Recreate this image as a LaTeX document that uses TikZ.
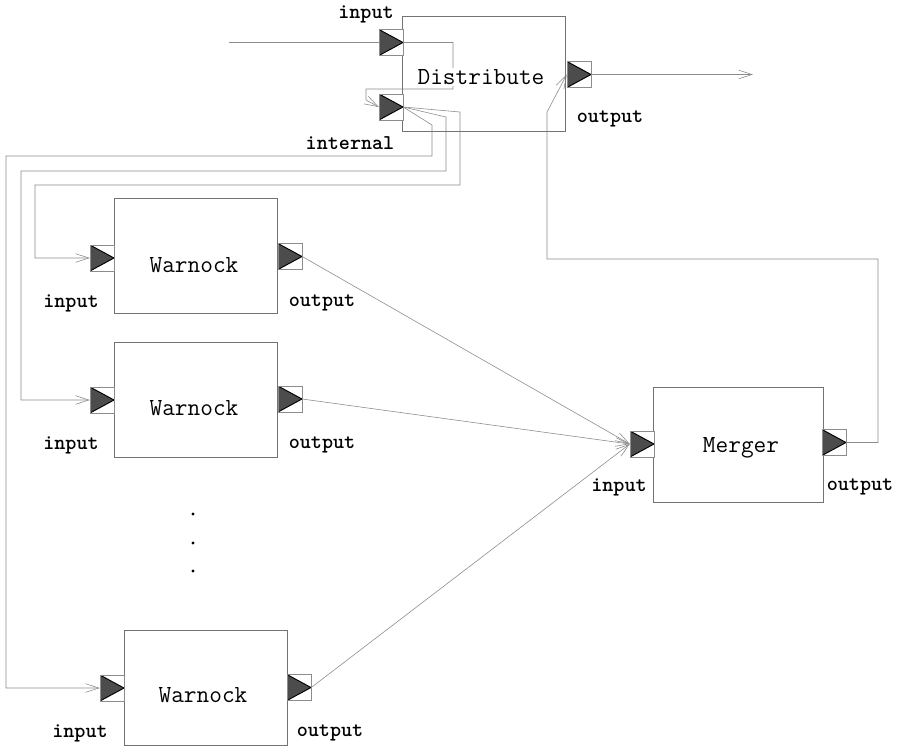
\documentclass[tikz,border=0pt]{standalone}
\usetikzlibrary{arrows.meta,backgrounds}

\begin{document}
\begin{tikzpicture}[x=0.03cm, y=-0.03cm,
        block/.style={draw=black!55, minimum width=4.9cm, minimum height=3.45cm},
        port/.style={draw=black!45, fill=white, inner sep=0pt, minimum width=0.72cm, minimum height=0.78cm,
            path picture={\fill[black!70, draw=black, line width=0.8pt] (path picture bounding box.north west)
                -- (path picture bounding box.east) -- (path picture bounding box.south west) -- cycle;}},
        title/.style={font=\ttfamily\fontsize{21}{24}\selectfont, fill=white, inner sep=1pt},
        tag/.style={font=\ttfamily\bfseries\fontsize{18}{20}\selectfont, inner sep=0pt},
        wire/.style={draw=black!45, line width=0.5pt},
        link/.style={wire, -{Straight Barb[length=4mm, width=2.6mm]}}]
    \useasboundingbox (0, 0) rectangle (899, 746);

    % actors
    \node[block] (dist) at (483.5, 73.5) {};
    \node[block] (w1) at (196, 255.5) {};
    \node[block] (w2) at (196, 399.5) {};
    \node[block] (w3) at (205.5, 687.5) {};
    \node[block, minimum width=5.1cm] (merger) at (738, 445) {};

    \node[title] (dist-name) at (481, 77) {Distribute};
    \node[title] (w1-name) at (194, 265) {Warnock};
    \node[title] (w2-name) at (194, 408) {Warnock};
    \node[title] (w3-name) at (203, 695) {Warnock};
    \node[title] (merger-name) at (741, 448) {Merger};

    % ports
    \node[port] (dist-in) at (391, 42.5) {};
    \node[port] (dist-int) at (391, 107) {};
    \node[port] (dist-out) at (579, 74.5) {};
    \node[port] (w1-in) at (102, 258) {};
    \node[port] (w1-out) at (290, 256.5) {};
    \node[port] (w2-in) at (102, 400) {};
    \node[port] (w2-out) at (290, 399) {};
    \node[port] (w3-in) at (112, 688) {};
    \node[port] (w3-out) at (299, 687.5) {};
    \node[port] (merger-in) at (642, 444) {};
    \node[port] (merger-out) at (834, 442.5) {};

    \node[tag] (dist-inlbl) at (366, 14) {input};
    \node[tag] (dist-intlbl) at (350, 143) {internal};
    \node[tag] (dist-outlbl) at (610, 119) {output};
    \node[tag] (w1-inlbl) at (71, 303) {input};
    \node[tag] (w1-outlbl) at (322, 303) {output};
    \node[tag] (w2-inlbl) at (71, 445) {input};
    \node[tag] (w2-outlbl) at (322, 445) {output};
    \node[tag] (w3-inlbl) at (80, 733) {input};
    \node[tag] (w3-outlbl) at (330, 733) {output};
    \node[tag] (merger-inlbl) at (619, 487) {input};
    \node[tag] (merger-outlbl) at (860, 487) {output};

    \coordinate (src) at (229, 42.5);
    \coordinate (sink) at (753, 74.5);

    \foreach \y in {514, 543, 571}
        \fill (193, \y) circle (0.05cm);

    % relations
    \begin{scope}[on background layer]
        \draw[wire] (src) -- (dist-in.west);
        \draw[link] (dist-out.east) -- (sink);
        \draw[link] (dist-in.east) -| (453, 89) -| (366, 100) -- (dist-int.west);
        \draw[link] (dist-int.east) -- (432, 125) |- (6, 156) |- (w3-in.west);
        \draw[link] (dist-int.east) -- (446, 117) |- (21, 171) |- (w2-in.west);
        \draw[link] (dist-int.east) -- (460, 112) |- (35, 185) |- (w1-in.west);
        \draw[link] (w1-out.east) -- (merger-in.west);
        \draw[link] (w2-out.east) -- (merger-in.west);
        \draw[link] (w3-out.east) -- (merger-in.west);
        \draw[link] (merger-out.east) -| (878, 259) -| (547, 112) -- (dist-out.west);
    \end{scope}
\end{tikzpicture}
\end{document}
